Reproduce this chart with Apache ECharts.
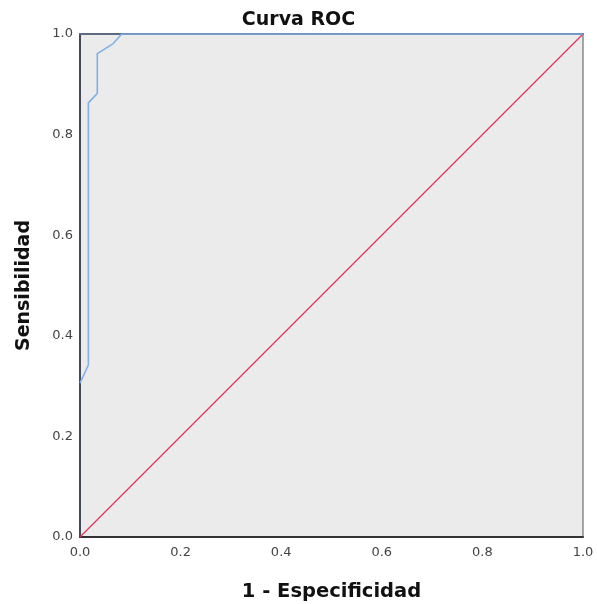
<!DOCTYPE html>
<html><head><meta charset="utf-8">
<script src="https://cdn.jsdelivr.net/npm/echarts@6/dist/echarts.min.js"></script>
<style>html,body{margin:0;padding:0;background:#fff}#c{width:597px;height:604px}</style>
</head><body><div id="c"></div>
<script>
const rocX = [0.0, 0.0166, 0.0166, 0.0344, 0.0344, 0.066, 0.083, 1.0];
const rocY = [0.306, 0.342, 0.863, 0.882, 0.961, 0.981, 1.0, 1.0];
const refX = [0, 1];
const refY = [0, 1];
const tickLabels = ['0.0','0.2','0.4','0.6','0.8','1.0'];

const chart = echarts.init(document.getElementById('c'));
chart.setOption({
  animation: false,
  title: {text: 'Curva ROC', left: 'center', top: 6,
    textStyle: {fontFamily: 'DejaVu Sans', fontWeight: 'bold', fontSize: 19, color: '#111'}},
  grid: {left: 80, top: 34, width: 503, height: 503, show: true, containLabel: false,
    outerBoundsMode: 'none',
    backgroundColor: '#ebebeb', borderColor: '#555', borderWidth: 1},
  xAxis: [{type: 'value', min: 0, max: 1, interval: 0.2,
    name: '1 - Especificidad', nameLocation: 'middle', nameGap: 45,
    nameTextStyle: {fontFamily: 'DejaVu Sans', fontWeight: 'bold', fontSize: 19.5, color: '#111'},
    axisLine: {show: true, lineStyle: {color: '#333', width: 2}},
    axisTick: {show: false}, splitLine: {show: false},
    axisLabel: {formatter: v => tickLabels[Math.round(v*5)], fontFamily: 'DejaVu Sans', fontSize: 13, color: '#444', margin: 9}},
   {type: 'value', position: 'top', min: 0, max: 1,
    axisLine: {show: true, lineStyle: {color: '#5d6b80', width: 2}},
    axisTick: {show: false}, axisLabel: {show: false}, splitLine: {show: false}}],
  yAxis: {type: 'value', min: 0, max: 1, interval: 0.2,
    name: 'Sensibilidad', nameLocation: 'middle', nameGap: 46,
    nameTextStyle: {fontFamily: 'DejaVu Sans', fontWeight: 'bold', fontSize: 19, color: '#111'},
    axisLine: {show: true, lineStyle: {color: '#444a55', width: 2}},
    axisTick: {show: false}, splitLine: {show: false},
    axisLabel: {formatter: v => tickLabels[Math.round(v*5)], fontFamily: 'DejaVu Sans', fontSize: 13, color: '#444', margin: 7}},
  series: [
    {type: 'line', data: refX.map((x,i)=>[x, refY[i]]), symbol: 'none',
      lineStyle: {color: '#e0355e', width: 1.2}},
    {type: 'line', data: rocX.map((x,i)=>[x, rocY[i]]), symbol: 'none',
      lineStyle: {color: '#7fb0ea', width: 1.6}}
  ]
});
</script></body></html>
